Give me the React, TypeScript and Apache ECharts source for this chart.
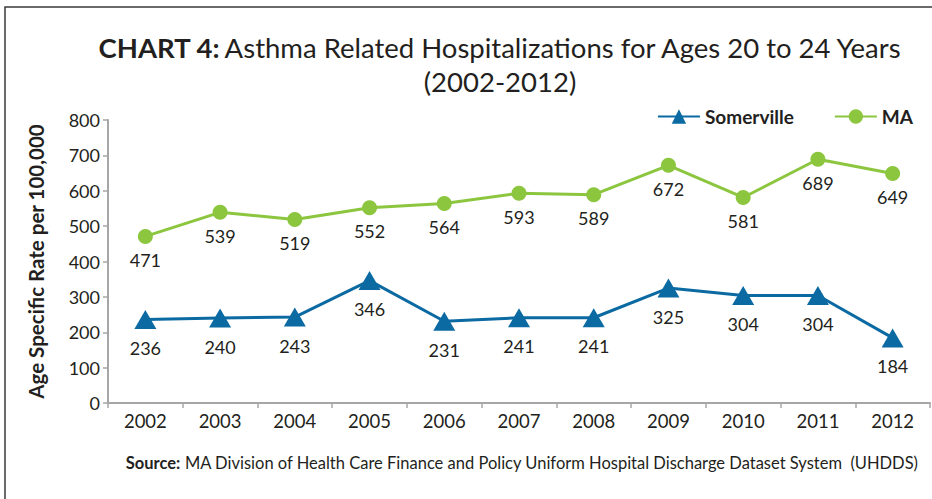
import React, { useEffect, useRef } from "react";
import * as echarts from "echarts";

const years = ["2002", "2003", "2004", "2005", "2006", "2007", "2008", "2009", "2010", "2011", "2012"];
const somerville = [236, 240, 243, 346, 231, 241, 241, 325, 304, 304, 184];
const ma = [471, 539, 519, 552, 564, 593, 589, 672, 581, 689, 649];
const yTicks = { min: 0, max: 800, interval: 100 };

const FONT = "Lato, 'Open Sans', sans-serif";
const BLUE = "#0b6aa2";
const GREEN = "#8cc63f";
const TXT = "#231f20";

export default function App() {
  const ref = useRef<HTMLDivElement>(null);
  useEffect(() => {
    document.body.style.margin = "0";
    const chart = echarts.init(ref.current!, null, { renderer: "svg" });
    chart.setOption({
      animation: false,
      textStyle: { fontFamily: FONT },
      graphic: [
        {
          type: "rect",
          shape: { x: 5, y: 7, width: 1000, height: 600 },
          style: { fill: "none", stroke: "#3a3a3a", lineWidth: 1.5 },
          silent: true,
        },
        {
          type: "text",
          x: 500,
          y: 47,
          style: {
            text: "{b|CHART 4:} {r|Asthma Related Hospitalizations for Ages 20 to 24 Years}",
            align: "center",
            verticalAlign: "middle",
            rich: {
              b: { fontFamily: FONT, fontSize: 27.5, fontWeight: "bold", fill: TXT },
              r: { fontFamily: FONT, fontSize: 27.5, fill: TXT },
            },
          },
        },
        {
          type: "text",
          x: 500,
          y: 81,
          style: {
            text: "(2002-2012)",
            align: "center",
            verticalAlign: "middle",
            fontFamily: FONT,
            fontSize: 27.5,
            fill: TXT,
          },
        },
        {
          type: "text",
          x: 918,
          y: 463,
          style: {
            text: "{b|Source:} {r|MA Division of Health Care Finance and Policy Uniform Hospital Discharge Dataset System  (UHDDS)}",
            align: "right",
            verticalAlign: "middle",
            rich: {
              b: { fontFamily: FONT, fontSize: 16.5, fontWeight: "bold", fill: TXT },
              r: { fontFamily: FONT, fontSize: 16.5, fill: TXT },
            },
          },
        },
      ],
      legend: {
        top: 102,
        right: 14,
        itemWidth: 42,
        itemHeight: 18,
        itemGap: 40,
        textStyle: { fontFamily: FONT, fontSize: 19, fontWeight: "bold", color: TXT },
        data: ["Somerville", "MA"],
      },
      grid: { left: 108, right: 2, top: 120, bottom: 96, containLabel: false },
      xAxis: {
        type: "category",
        data: years,
        boundaryGap: true,
        axisLine: { lineStyle: { color: "#a6a6a6", width: 2 } },
        axisTick: { show: true, length: 5, lineStyle: { color: "#a6a6a6", width: 1.5 } },
        axisLabel: { fontFamily: FONT, fontSize: 18.5, color: TXT, margin: 8 },
      },
      yAxis: {
        type: "value",
        min: yTicks.min,
        max: yTicks.max,
        interval: yTicks.interval,
        name: "Age Specific Rate per 100,000",
        nameLocation: "middle",
        nameGap: 62,
        nameTextStyle: { fontFamily: FONT, fontSize: 20.5, fontWeight: "bold", color: TXT },
        axisLine: { show: true, lineStyle: { color: "#a6a6a6", width: 2 } },
        axisTick: { show: true, length: 5, lineStyle: { color: "#a6a6a6", width: 1.5 } },
        axisLabel: { fontFamily: FONT, fontSize: 18, color: TXT, margin: 8 },
        splitLine: { show: false },
      },
      series: [
        {
          name: "Somerville",
          type: "line",
          data: somerville,
          symbol: "triangle",
          symbolSize: [22, 19],
          lineStyle: { color: BLUE, width: 3 },
          itemStyle: { color: BLUE },
          label: {
            show: true,
            position: "bottom",
            distance: 10,
            fontFamily: FONT,
            fontSize: 18,
            color: TXT,
          },
        },
        {
          name: "MA",
          type: "line",
          data: ma,
          symbol: "circle",
          symbolSize: 15,
          lineStyle: { color: GREEN, width: 3 },
          itemStyle: { color: GREEN },
          label: {
            show: true,
            position: "bottom",
            distance: 7,
            fontFamily: FONT,
            fontSize: 18,
            color: TXT,
          },
        },
      ],
    });
    return () => chart.dispose();
  }, []);
  return <div ref={ref} style={{ width: 932, height: 499 }} />;
}
